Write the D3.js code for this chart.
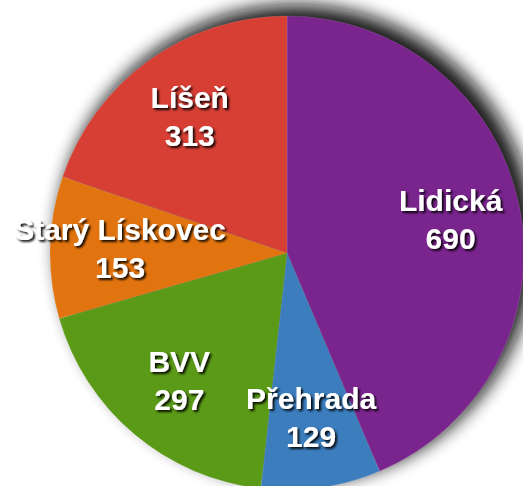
<!DOCTYPE html>
<html>
<head>
<meta charset="utf-8">
<script src="https://cdn.jsdelivr.net/npm/d3@7"></script>
<style>
  html, body { margin: 0; padding: 0; background: #fff; }
  .lbl { font-family: "Liberation Sans", Arial, Helvetica, sans-serif; font-size: 30px; font-weight: bold; fill: #fff; }
</style>
</head>
<body>
<div id="chart"></div>
<script>
// data
var names = ["Lidická", "Přehrada", "BVV", "Starý Lískovec", "Líšeň"];
var values = [690, 129, 297, 153, 313];
var colors = ["#7a248e", "#3b7dbd", "#5a9a17", "#e2740f", "#d73f35"];

var width = 523, height = 486;
var cx = 287, cy = 253, radius = 237;

var svg = d3.select("#chart").append("svg")
    .attr("width", width).attr("height", height);

var defs = svg.append("defs");
var blur = defs.append("filter").attr("id", "blur")
    .attr("filterUnits", "userSpaceOnUse")
    .attr("x", -400).attr("y", -400).attr("width", 800).attr("height", 800);
blur.append("feGaussianBlur").attr("stdDeviation", 9);

var ts = defs.append("filter").attr("id", "textShadow")
    .attr("x", "-10%").attr("y", "-30%").attr("width", "120%").attr("height", "160%");
ts.append("feGaussianBlur").attr("in", "SourceAlpha").attr("stdDeviation", 1.3).attr("result", "b");
ts.append("feOffset").attr("in", "b").attr("dx", 1.5).attr("dy", 2).attr("result", "o");
ts.append("feComponentTransfer").attr("in", "o").attr("result", "s")
    .append("feFuncA").attr("type", "linear").attr("slope", 0.9);
var m2 = ts.append("feMerge");
m2.append("feMergeNode").attr("in", "s");
m2.append("feMergeNode").attr("in", "SourceGraphic");

var g = svg.append("g").attr("transform", "translate(" + cx + "," + cy + ")");

var pie = d3.pie().sort(null).value(function (d) { return d; });
var arcs = pie(values);
var arc = d3.arc().innerRadius(0).outerRadius(radius);
var labelArc = d3.arc().innerRadius(167).outerRadius(167);

// drop shadow behind the pie
g.append("circle")
    .attr("cx", 9).attr("cy", -9).attr("r", radius + 2)
    .attr("fill", "#111")
    .attr("opacity", 0.95)
    .attr("filter", "url(#blur)");

g.append("g")
    .selectAll("path")
    .data(arcs)
    .enter().append("path")
    .attr("d", arc)
    .attr("fill", function (d, i) { return colors[i]; })
    .style("stroke", "rgba(255,255,255,0.12)")
    .style("stroke-width", 1);

var lbl = g.append("g").attr("filter", "url(#textShadow)")
    .selectAll("text")
    .data(arcs)
    .enter().append("text")
    .attr("class", "lbl")
    .attr("text-anchor", "middle")
    .attr("transform", function (d) {
        var c = labelArc.centroid(d);
        return "translate(" + c[0] + "," + c[1] + ")";
    });
lbl.append("tspan").attr("x", 0).attr("y", -9).text(function (d, i) { return names[i]; });
lbl.append("tspan").attr("x", 0).attr("y", 29).text(function (d) { return d.data; });
</script>
</body>
</html>
